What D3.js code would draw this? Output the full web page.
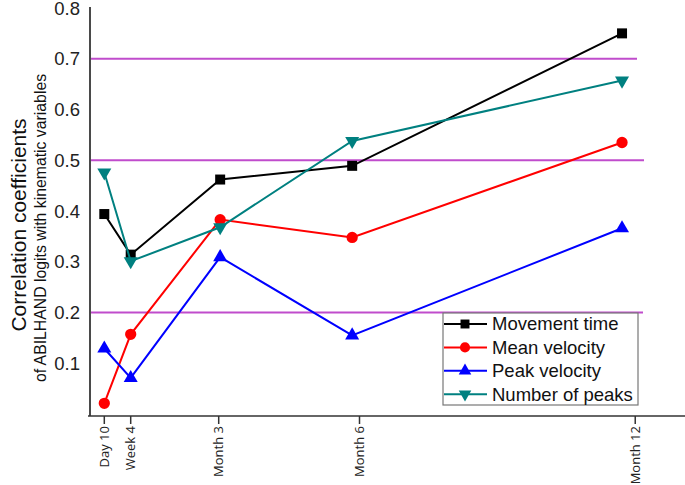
<!DOCTYPE html>
<html lang="en">
<head>
  <meta charset="UTF-8">
  <title>Correlation coefficients</title>
  <script src="https://d3js.org/d3.v7.min.js"></script>
  <style>
    body { margin: 0; background: #fff; }
    svg { font-family: "Liberation Sans", Arial, sans-serif; }
  </style>
</head>
<body>
<svg id="chart" width="685" height="485"></svg>
<script>
// tick positions (days since stroke) and their labels
const tickDays = [10, 28, 88, 184, 372];
const tickLabels = ["Day 10", "Week 4", "Month 3", "Month 6", "Month 12"];
// days where the points were drawn in the original figure
const visitDays = [10, 28, 89, 179, 363];

const yTicks = [0.1, 0.2, 0.3, 0.4, 0.5, 0.6, 0.7, 0.8];
const refLines = [0.7, 0.5, 0.2];
const refLineEnds = [637, 644, 643];

const movementTime = [0.394, 0.314, 0.462, 0.489, 0.750];
const meanVelocity = [0.021, 0.157, 0.383, 0.348, 0.535];
const peakVelocity = [0.129, 0.071, 0.309, 0.155, 0.366];
const numberOfPeaks = [0.476, 0.301, 0.368, 0.538, 0.657];

const series = [
  { name: "Movement time", values: movementTime, color: "#000000", symbol: d3.symbolSquare, size: 100, rotate: 0 },
  { name: "Mean velocity", values: meanVelocity, color: "#ff0000", symbol: d3.symbolCircle, size: 100, rotate: 0 },
  { name: "Peak velocity", values: peakVelocity, color: "#0000ff", symbol: d3.symbolTriangle, size: 85, rotate: 0 },
  { name: "Number of peaks", values: numberOfPeaks, color: "#008080", symbol: d3.symbolTriangle, size: 85, rotate: 180 }
];

const svg = d3.select("#chart");

const x = d3.scaleLinear().domain([10, 28]).range([104.3, 130.7]);
const y = d3.scaleLinear().domain([0, 0.8]).range([414, 8]);
const axisX = 90, axisY = 416;

// reference lines
svg.append("g").selectAll("line")
  .data(refLines)
  .enter().append("line")
  .attr("x1", axisX)
  .attr("x2", (d, i) => refLineEnds[i])
  .attr("y1", d => y(d))
  .attr("y2", d => y(d))
  .attr("stroke", "#c04ccc")
  .attr("stroke-width", 2);

// y axis line
svg.append("line")
  .attr("x1", axisX).attr("x2", axisX)
  .attr("y1", y(0.8) - 1).attr("y2", axisY)
  .attr("stroke", "#4a4a4a").attr("stroke-width", 2);

// y tick labels
svg.append("g").selectAll("text")
  .data(yTicks)
  .enter().append("text")
  .attr("x", 80)
  .attr("y", d => y(d))
  .attr("dy", "0.36em")
  .attr("text-anchor", "end")
  .attr("font-size", 18.5)
  .attr("fill", "#222")
  .text(d => d.toFixed(1));

// x axis
svg.append("line")
  .attr("x1", axisX - 2).attr("x2", 685)
  .attr("y1", axisY).attr("y2", axisY)
  .attr("stroke", "#333").attr("stroke-width", 1.5);

const xt = svg.append("g").selectAll("g")
  .data(tickDays)
  .enter().append("g")
  .attr("transform", d => `translate(${x(d)},${axisY})`);

xt.append("line")
  .attr("y1", 0).attr("y2", 8)
  .attr("stroke", "#333").attr("stroke-width", 1.5);

xt.append("text")
  .attr("transform", "rotate(-90)")
  .attr("x", -10)
  .attr("dy", "0.35em")
  .attr("text-anchor", "end")
  .attr("font-family", "'Open Sans', sans-serif")
  .attr("font-size", 13)
  .attr("fill", "#222")
  .text((d, i) => tickLabels[i]);

// axis titles
svg.append("text")
  .attr("transform", "translate(26,225) rotate(-90)")
  .attr("text-anchor", "middle")
  .attr("font-size", 21)
  .attr("fill", "#111")
  .text("Correlation coefficients");

svg.append("text")
  .attr("transform", "translate(46,228) rotate(-90)")
  .attr("text-anchor", "middle")
  .attr("font-size", 15.8)
  .attr("fill", "#111")
  .text("of ABILHAND logits with kinematic variables");

// series lines and markers
const line = d3.line()
  .x((d, i) => x(visitDays[i]))
  .y(d => y(d));

series.forEach(s => {
  svg.append("path")
    .datum(s.values)
    .attr("d", line)
    .attr("fill", "none")
    .attr("stroke", s.color)
    .attr("stroke-width", 2);

  svg.append("g").selectAll("path")
    .data(s.values)
    .enter().append("path")
    .attr("d", d3.symbol().type(s.symbol).size(s.size))
    .attr("transform", (d, i) => `translate(${x(visitDays[i])},${y(d)}) rotate(${s.rotate})`)
    .attr("fill", s.color);
});

// legend
const legend = svg.append("g").attr("transform", "translate(443,313)");
legend.append("rect")
  .attr("width", 195).attr("height", 92)
  .attr("fill", "#fff")
  .attr("stroke", "#777").attr("stroke-width", 1.2);

const rows = legend.selectAll("g.row")
  .data(series)
  .enter().append("g")
  .attr("class", "row")
  .attr("transform", (d, i) => `translate(0,${11 + i * 23.4})`);

rows.append("line")
  .attr("x1", 1).attr("x2", 44)
  .attr("stroke", d => d.color).attr("stroke-width", 2);

rows.append("path")
  .attr("d", d => d3.symbol().type(d.symbol).size(d.size * 0.8)())
  .attr("transform", d => `translate(22,0) rotate(${d.rotate})`)
  .attr("fill", d => d.color);

rows.append("text")
  .attr("x", 49)
  .attr("dy", "0.35em")
  .attr("font-size", 18.5)
  .attr("fill", "#111")
  .text(d => d.name);
</script>
</body>
</html>
